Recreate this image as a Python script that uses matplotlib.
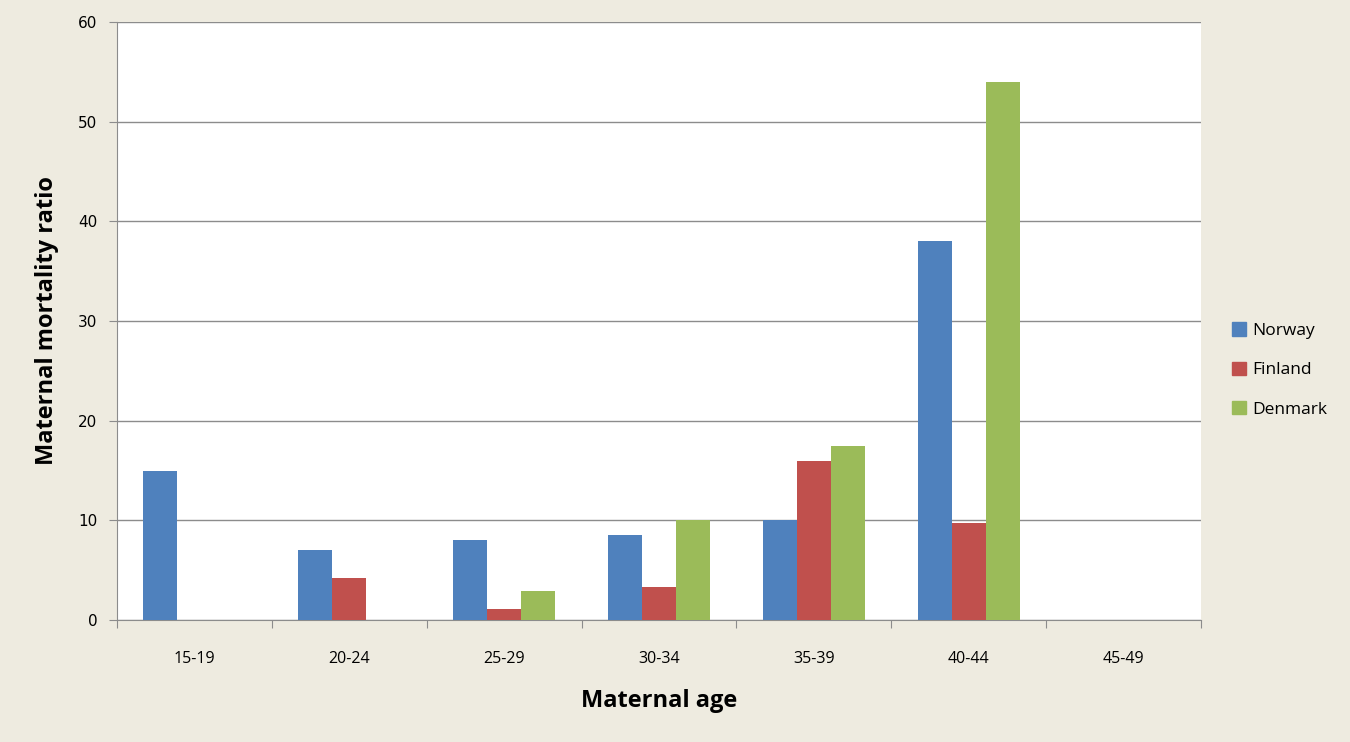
import numpy as np
import matplotlib.pyplot as plt
from matplotlib.patches import Patch

ages = ["15-19", "20-24", "25-29", "30-34", "35-39", "40-44", "45-49"]
norway = [15, 7, 8, 8.5, 10, 38, 0]
finland = [0, 4.2, 1.1, 3.3, 16, 9.7, 0]
denmark = [0, 0, 2.9, 10, 17.5, 54, 0]

countries = ["Norway", "Finland", "Denmark"]
colors = ["#4F81BD", "#C0504D", "#9BBB59"]
bg = "#EEEBE0"

fig = plt.figure(figsize=(13.5, 7.42), dpi=100, facecolor=bg)
ax = fig.add_axes([117/1350, 1-620/742, 1084/1350, 598/742])
ax.set_facecolor("white")

x = np.arange(len(ages))
w = 0.22
for i, (vals, c) in enumerate(zip([norway, finland, denmark], colors)):
    ax.bar(x + (i - 1) * w, vals, w, color=c, zorder=3)

ax.set_xlim(-0.5, len(ages) - 0.5)
ax.set_ylim(0, 60)
ax.set_yticks(range(0, 61, 10))
ax.yaxis.grid(True, color="#8C8C8C", linewidth=1)
ax.set_axisbelow(True)

ax.set_xticks(np.arange(-0.5, len(ages), 1))
ax.set_xticklabels([])
ax.set_xticks(x, minor=True)
ax.set_xticklabels(ages, minor=True, fontsize=11.5, family="Open Sans")
ax.tick_params(axis="x", which="major", length=6, color="#8C8C8C", direction="out")
ax.tick_params(axis="x", which="minor", length=0, pad=22)
ax.tick_params(axis="y", length=6, color="#8C8C8C", labelsize=11, pad=8)

for s in ["top", "right"]:
    ax.spines[s].set_visible(False)
for s in ["left", "bottom"]:
    ax.spines[s].set_color("#8C8C8C")

ax.set_xlabel("Maternal age", fontsize=17, fontweight="bold", family="Open Sans", labelpad=16)
ax.set_ylabel("Maternal mortality ratio", fontsize=17, fontweight="bold", family="Open Sans", labelpad=14)

handles = [Patch(color=c, label=n) for n, c in zip(countries, colors)]
fig.legend(handles=handles, loc="center left", bbox_to_anchor=(1216/1350, 1-370/742),
           frameon=False, handlelength=0.8, handleheight=0.8,
           handletextpad=0.4, labelspacing=1.3, prop={"family": "Open Sans", "size": 12.5})

fig.savefig("out.png", dpi=100, facecolor=bg)
